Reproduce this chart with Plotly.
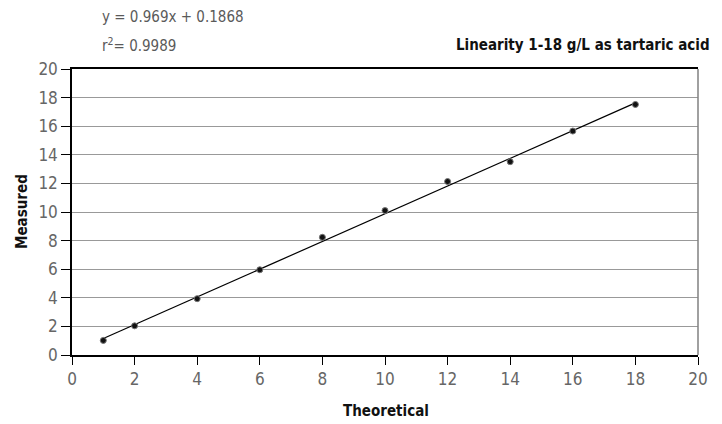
import plotly.graph_objects as go

theoretical = [1, 2, 4, 6, 8, 10, 12, 14, 16, 18]
measured = [1.02, 2.04, 3.94, 5.96, 8.23, 10.1, 12.13, 13.52, 15.66, 17.52]
slope = 0.969
intercept = 0.1868
fit_x = [1, 18]
fit_y = [slope * v + intercept for v in fit_x]
ticks = [0, 2, 4, 6, 8, 10, 12, 14, 16, 18, 20]

FAM = "DejaVu Sans Condensed, Roboto, Arial"
tick_font = dict(family=FAM, size=17, color="#666666", weight=300)
bold_font = dict(family=FAM, size=15, color="#111111", weight=700)
eq_font = dict(family=FAM, size=15, color="#5a5a5a", weight=300)

W, H = 722, 424
L, T = 72, 69          # plot area left/top
PW, PH = 626, 286      # plot area size

fig = go.Figure()
fig.add_trace(go.Scatter(x=fit_x, y=fit_y, mode="lines",
                         line=dict(color="black", width=1.2), hoverinfo="skip"))
fig.add_trace(go.Scatter(x=theoretical, y=measured, mode="markers",
                         marker=dict(color="#111111", size=6,
                                     line=dict(color="#777777", width=1))))

def px(xw):
    return (xw - L) / PW

def py(yw):
    return 1 + (T - yw) / PH

fig.update_layout(
    width=W, height=H,
    margin=dict(l=L, r=W - L - PW, t=T, b=H - T - PH, pad=0),
    paper_bgcolor="white", plot_bgcolor="white",
    showlegend=False,
    xaxis=dict(range=[0, 20], tickvals=ticks, showgrid=False, zeroline=False,
               automargin=False,
               showline=True, linecolor="black", linewidth=1.5, mirror=True,
               ticks="outside", ticklen=8, tickcolor="black",
               tickfont=tick_font),
    yaxis=dict(range=[0, 20], tickvals=ticks, showgrid=True, gridcolor="#999999",
               gridwidth=1, zeroline=False, automargin=False,
               showline=True, linecolor="black", linewidth=1.5,
               ticks="outside", ticklen=9, tickcolor="black",
               tickfont=tick_font),
    shapes=[dict(type="line", xref="paper", yref="paper", x0=1, x1=1, y0=0, y1=1,
                 line=dict(color="#808080", width=1.5))],
    annotations=[
        dict(text="y = 0.969x + 0.1868", xref="paper", yref="paper",
             x=px(100), y=py(17), xanchor="left", yanchor="middle",
             showarrow=False, font=eq_font),
        dict(text="r<sup>2</sup>= 0.9989", xref="paper", yref="paper",
             x=px(100), y=py(45), xanchor="left", yanchor="middle",
             showarrow=False, font=eq_font),
        dict(text="<b>Linearity 1-18 g/L as tartaric acid</b>", xref="paper", yref="paper",
             x=px(712), y=py(45), xanchor="right", yanchor="middle",
             showarrow=False, font=bold_font),
        dict(text="<b>Theoretical</b>", xref="paper", yref="paper",
             x=px(386), y=py(411), xanchor="center", yanchor="middle",
             showarrow=False, font=bold_font),
        dict(text="<b>Measured</b>", xref="paper", yref="paper",
             x=px(22), y=py(212), xanchor="center", yanchor="middle",
             textangle=-90, showarrow=False, font=bold_font),
    ],
)

fig.write_html("out.html",
               config={"displayModeBar": False},
               post_script="document.body.style.margin='0px';document.body.style.overflow='hidden';")
